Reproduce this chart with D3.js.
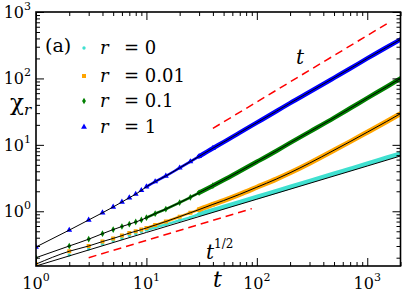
<!DOCTYPE html>
<html>
<head>
<meta charset="utf-8">
<script src="https://cdn.jsdelivr.net/npm/d3@7"></script>
<style>
  body { margin: 0; background: #fff; }
</style>
</head>
<body>
<div id="chart"></div>
<script>
// time values
const tVals = [1,2,3,4,5,6,7,8,9,10,12,15,20,25,30,40,50,70,100,150,200,300,500,700,1000,1500,2000];

// chi_r for each r
const chiR0    = [0.15,0.22,0.27,0.32,0.36,0.39,0.43,0.46,0.49,0.52,0.57,0.63,0.73,0.81,0.9,1.04,1.16,1.37,1.64,2.0,2.32,2.85,3.68,4.35,5.2,6.4,7.4];
const chiR001  = [0.16,0.25,0.3,0.35,0.39,0.43,0.47,0.5,0.53,0.56,0.62,0.7,0.83,0.95,1.06,1.27,1.45,1.8,2.3,3.05,3.8,5.3,8.3,11.2,15.5,22.5,29.5];
const chiR01   = [0.2,0.3,0.38,0.46,0.53,0.59,0.64,0.69,0.74,0.8,0.92,1.08,1.35,1.62,1.9,2.43,2.95,4.0,5.55,8.1,10.7,15.7,25.5,35.5,50.5,75,100];
const chiR1    = [0.29,0.52,0.74,0.95,1.16,1.38,1.6,1.81,2.06,2.34,2.8,3.4,4.5,5.6,6.7,8.9,11,15.3,21.6,32,42.5,62.5,102,141,200,295,385];

// theory line for r = 0 (sits a bit under the cyan band)
const fitT  = [1,10,100,1000,2000];
const fitR0 = [0.15,0.48,1.52,4.8,6.8];

// guide lines
const guideT1  = [40,1500];
const guideV1  = [17.7,664];
const guideTh  = [3,90];
const guideVh  = [0.2,1.095];

const seriesNames = ["0","0.01","0.1","1"];
const seriesColors = ["#40e0d0","#ffa500","#008000","#0000ff"];
const seriesData = [chiR0, chiR001, chiR01, chiR1];

const W = 403, H = 292;
const margin = {left:36, right:2.5, top:12, bottom:26};
const FONT = "DejaVu Serif";

const svg = d3.select("#chart").append("svg")
  .attr("width", W).attr("height", H)
  .attr("font-family", FONT);

const x = d3.scaleLog().domain([1,2000]).range([margin.left, W-margin.right]);
const y = d3.scaleLog().domain([0.15,1000]).range([H-margin.bottom, margin.top]);

svg.append("clipPath").attr("id","clip")
  .append("rect")
  .attr("x", margin.left).attr("y", margin.top)
  .attr("width", x.range()[1]-margin.left)
  .attr("height", y.range()[0]-margin.top);

const plotG = svg.append("g").attr("clip-path","url(#clip)");

const line = d3.line().x(d => x(d[0])).y(d => y(d[1]));
const smooth = d3.line().curve(d3.curveMonotoneX).x(d => x(d[0])).y(d => y(d[1]));

// marker shapes per series
const symbols = [d3.symbolCircle, d3.symbolSquare, d3.symbolDiamond, d3.symbolTriangle];
const symSizes = [9, 16, 13, 15];
const bandWidths = [4.5, 5, 4.5, 4.5];

seriesData.forEach((vals, i) => {
  let pts = tVals.map((t,k) => [t, vals[k]]);
  // markers get denser with t: thin band first, full band once they merge
  plotG.append("path")
    .datum(pts.filter(d => d[0] >= 10 && d[0] <= 40))
    .attr("d", smooth)
    .attr("fill","none")
    .attr("stroke", seriesColors[i])
    .attr("stroke-width", 2.5);
  plotG.append("path")
    .datum(pts.filter(d => d[0] >= 30))
    .attr("d", smooth)
    .attr("fill","none")
    .attr("stroke", seriesColors[i])
    .attr("stroke-width", bandWidths[i])
    .attr("stroke-linecap","round");
  plotG.selectAll(null)
    .data(pts.filter(d => d[0] <= 40))
    .join("path")
    .attr("transform", d => `translate(${x(d[0])},${y(d[1])})`)
    .attr("d", d3.symbol(symbols[i], symSizes[i]))
    .attr("fill", seriesColors[i]);
});

// black theory / fit curves
[fitR0.map((v,k)=>[fitT[k],v]),
 tVals.map((t,k)=>[t,chiR001[k]]),
 tVals.map((t,k)=>[t,chiR01[k]]),
 tVals.map((t,k)=>[t,chiR1[k]])].forEach(pts => {
  plotG.append("path")
    .datum(pts)
    .attr("d", smooth)
    .attr("fill","none")
    .attr("stroke","#000")
    .attr("stroke-width",1);
});

// red dashed guides
[[guideT1,guideV1],[guideTh,guideVh]].forEach(g => {
  plotG.append("path")
    .datum(g[0].map((t,k)=>[t,g[1][k]]))
    .attr("d", line)
    .attr("fill","none")
    .attr("stroke","#ff0000")
    .attr("stroke-width",1.5)
    .attr("stroke-dasharray","8,5");
});

// axes with inward ticks on all sides
const xMajor = [1,10,100,1000];
const xMinor = x.ticks().filter(t => !xMajor.includes(t));
const yMajor = [1,10,100,1000];
const yMinor = y.ticks().filter(t => !yMajor.includes(t));

function addAxis(axisFn, scale, pos, vals, size) {
  const g = svg.append("g").attr("transform", pos)
    .call(axisFn(scale).tickValues(vals).tickSize(size).tickFormat(""));
  g.select(".domain").remove();
  g.selectAll(".tick line").attr("stroke","#000").attr("stroke-width",1);
}
const yB = y.range()[0], yT = y.range()[1], xL = x.range()[0], xR = x.range()[1];
addAxis(d3.axisBottom, x, `translate(0,${yB})`, xMajor, -8);
addAxis(d3.axisBottom, x, `translate(0,${yB})`, xMinor, -4);
addAxis(d3.axisTop, x, `translate(0,${yT})`, xMajor, -8);
addAxis(d3.axisTop, x, `translate(0,${yT})`, xMinor, -4);
addAxis(d3.axisLeft, y, `translate(${xL},0)`, yMajor, -8);
addAxis(d3.axisLeft, y, `translate(${xL},0)`, yMinor, -4);
addAxis(d3.axisRight, y, `translate(${xR},0)`, yMajor, -8);
addAxis(d3.axisRight, y, `translate(${xR},0)`, yMinor, -4);

svg.append("rect")
  .attr("x", xL).attr("y", yT)
  .attr("width", xR-xL).attr("height", yB-yT)
  .attr("fill","none").attr("stroke","#000").attr("stroke-width",1.6);

function txt(xp, yp, size) {
  return svg.append("text").attr("x", xp).attr("y", yp)
    .attr("font-family", FONT).attr("font-size", size).attr("fill","#000");
}

// tick labels 10^n
xMajor.forEach(t => {
  const tx = txt(x(t), 289, 16).attr("text-anchor","middle");
  tx.append("tspan").text("10");
  tx.append("tspan").attr("dy",-8).attr("font-size",11).text(Math.round(Math.log10(t)));
});
yMajor.forEach(v => {
  const tx = txt(31, y(v)+6, 16).attr("text-anchor","end");
  tx.append("tspan").text("10");
  tx.append("tspan").attr("dy",-8).attr("font-size",11).text(Math.round(Math.log10(v)));
});

// axis titles
txt(213, 287, 22).attr("font-style","italic").text("t");
const yl = txt(10, 110, 23);
yl.append("tspan").text("χ");
yl.append("tspan").attr("dy",5).attr("font-size",15).attr("font-style","italic").text("r");

// panel label and guide labels
txt(45, 52, 19).text("(a)");
txt(296, 64, 20).attr("font-style","italic").text("t");
const th = txt(206, 259, 20);
th.append("tspan").attr("font-style","italic").text("t");
th.append("tspan").attr("dy",-11).attr("font-size",12).text("1/2");

// legend
const legY = [48, 76, 101, 127];
seriesNames.forEach((nm,i) => {
  svg.append("path")
    .attr("transform", `translate(84,${legY[i]})`)
    .attr("d", d3.symbol(symbols[i], symSizes[i]))
    .attr("fill", seriesColors[i]);
  const lt = txt(100, legY[i]+6, 18);
  lt.append("tspan").attr("font-style","italic").text("r");
  lt.append("tspan").attr("x",124).text("= " + nm);
});
</script>
</body>
</html>
